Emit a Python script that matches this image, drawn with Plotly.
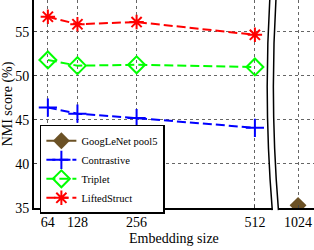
import plotly.graph_objects as go

sizes = [64, 128, 256, 512]
contrastive = [46.4, 45.7, 45.2, 44.1]
triplet = [51.8, 51.15, 51.25, 51.0]
lifted = [56.7, 55.85, 56.1, 54.65]
googlenet_x = [1024]
googlenet = [35.3]
tick_vals = [64, 128, 256, 512]
y_ticks = [35, 40, 45, 50, 55]

font = "Liberation Serif"
dash = "9px,4px"
fig = go.Figure()

fig.add_trace(go.Scatter(x=googlenet_x, y=googlenet, name="GoogLeNet pool5",
    mode="lines+markers", line=dict(color="#6b5125", width=2),
    marker=dict(symbol="diamond", size=13, color="#6b5125"),
    xaxis="x2", yaxis="y"))
fig.add_trace(go.Scatter(x=sizes, y=contrastive, name="Contrastive",
    mode="lines+markers", line=dict(color="#0000ff", width=2, dash=dash),
    marker=dict(symbol="cross-thin-open", size=13, line=dict(color="#0000ff", width=2))))
fig.add_trace(go.Scatter(x=sizes, y=triplet, name="Triplet",
    mode="lines+markers", line=dict(color="#00ff00", width=2, dash=dash),
    marker=dict(symbol="diamond-open", size=13, color="#00ff00", line=dict(width=2))))
fig.add_trace(go.Scatter(x=sizes, y=lifted, name="LiftedStruct",
    mode="lines+markers", line=dict(color="#ff0000", width=2, dash=dash),
    marker=dict(symbol="asterisk-open", size=12, line=dict(color="#ff0000", width=2))))

grid = dict(showgrid=True, gridcolor="#666", griddash="dot", gridwidth=1, automargin=False)
fig.update_layout(
    width=314, height=250,
    margin=dict(l=34, r=0, t=0, b=42, autoexpand=False),
    plot_bgcolor="white", paper_bgcolor="white",
    font=dict(family=font, size=14, color="black"),
    showlegend=True,
    legend=dict(x=0.021, y=0.40, xanchor="left", yanchor="top",
                bordercolor="black", borderwidth=1.5, bgcolor="white",
                font=dict(family=font, size=10.5, color="black"),
                tracegroupgap=0, itemwidth=30),
    xaxis=dict(domain=[0, 0.85], range=[34, 549], tickvals=tick_vals,
               showline=True, linecolor="black", linewidth=1.5,
               ticks="inside", ticklen=3, zeroline=False, **grid),
    xaxis2=dict(domain=[0.868, 1], range=[978.5, 1058.5], tickvals=googlenet_x,
                anchor="y", showline=True, linecolor="black", linewidth=1.5,
                ticks="inside", ticklen=3, zeroline=False, **grid),
    yaxis=dict(range=[35, 58.6], tickvals=y_ticks, showline=True,
               linecolor="black", linewidth=2, ticks="inside", ticklen=3,
               zeroline=False, title=dict(text="NMI score (%)", standoff=4,
               font=dict(size=14)), **grid),
)

# x-axis title centered under the full plot
fig.add_annotation(text="Embedding size", xref="paper", yref="paper",
                   x=0.5, y=0, yshift=-21, yanchor="top", showarrow=False,
                   font=dict(size=14))

# axis break marks
fig.add_shape(type="path", xref="paper", yref="paper",
              path="M 0.842 1 Q 0.82 0.5 0.851 -0.01 L 0.873 -0.01 Q 0.842 0.5 0.864 1 Z",
              fillcolor="white", line=dict(width=0))
fig.add_shape(type="path", xref="paper", yref="paper",
              path="M 0.842 1 Q 0.82 0.5 0.851 -0.01",
              line=dict(color="black", width=1.5))
fig.add_shape(type="path", xref="paper", yref="paper",
              path="M 0.864 1 Q 0.842 0.5 0.873 -0.01",
              line=dict(color="black", width=1.5))

fig.write_html("out.html", config={"displayModeBar": False},
               post_script="document.body.style.margin='0';")
